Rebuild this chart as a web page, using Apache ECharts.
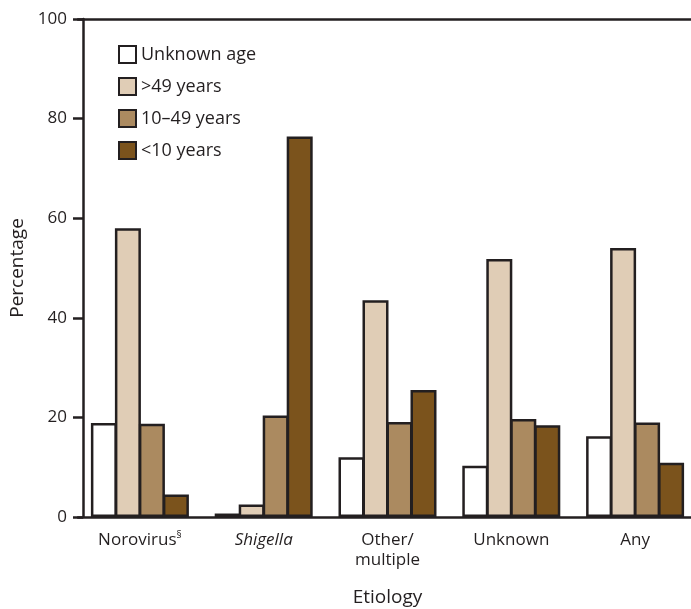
<!DOCTYPE html>
<html>
<head>
<meta charset="utf-8">
<script src="https://cdn.jsdelivr.net/npm/echarts@6/dist/echarts.min.js"></script>
<style>
html,body{margin:0;padding:0;background:#fff;}
#chart{width:691px;height:609px;}
</style>
</head>
<body>
<div id="chart"></div>
<script>
var categories = ['Norovirus', 'Shigella', 'Other/\nmultiple', 'Unknown', 'Any'];
var seriesNames = ['Unknown age', '>49 years', '10\u201349 years', '<10 years'];
var unknownAge = [18.9, 0.7, 12.0, 10.3, 16.2];
var over49 = [58.0, 2.5, 43.5, 51.8, 54.0];
var age10to49 = [18.7, 20.4, 19.1, 19.7, 19.0];
var under10 = [4.5, 76.4, 25.5, 18.4, 10.9];
var yTicks = [0, 20, 40, 60, 80, 100];

var colors = ['#ffffff', '#e0cdb6', '#ab8a60', '#7b531c'];
var ink = '#231f20';
var font = 'Open Sans';

var chart = echarts.init(document.getElementById('chart'));
var values = [unknownAge, over49, age10to49, under10];
var series = values.map(function (v, i) {
  return {
    name: seriesNames[i],
    type: 'bar',
    data: v,
    barWidth: 26,
    barGap: '-7.7%',
    itemStyle: { color: colors[i], borderColor: ink, borderWidth: 2.5 }
  };
});

chart.setOption({
  animation: false,
  textStyle: { fontFamily: font, color: ink },
  legend: {
    orient: 'vertical',
    left: 113,
    top: 40,
    icon: 'rect',
    itemWidth: 17,
    itemHeight: 17,
    itemGap: 13,
    textStyle: { fontSize: 18, color: ink, fontFamily: font },
    data: seriesNames
  },
  grid: { left: 78, right: -6, top: 19, bottom: 92, containLabel: false, outerBoundsMode: 'none' },
  xAxis: [{
    type: 'category',
    data: categories,
    axisLine: { lineStyle: { color: ink, width: 2.5 } },
    axisTick: { alignWithLabel: true, length: 10, lineStyle: { color: ink, width: 2.5 } },
    axisLabel: {
      interval: 0,
      fontSize: 17, color: ink, margin: 13, lineHeight: 20, fontFamily: font,
      formatter: function (v) {
        if (v === 'Norovirus') return v + '{sup|§}';
        if (v === 'Shigella') return '{it|' + v + '}';
        return v;
      },
      rich: {
        sup: { fontSize: 10, verticalAlign: 'top', color: ink, padding: [0, 0, 8, 0], fontFamily: font },
        it: { fontStyle: 'italic', fontSize: 17, color: ink, fontFamily: font }
      }
    },
    name: 'Etiology',
    nameLocation: 'middle',
    nameGap: 71,
    nameTextStyle: { fontSize: 19, color: ink, fontFamily: font }
  }, {
    type: 'category',
    position: 'top',
    data: categories,
    axisLine: { lineStyle: { color: ink, width: 2.5 } },
    axisTick: { show: false },
    axisLabel: { show: false }
  }],
  yAxis: {
    type: 'value',
    min: yTicks[0],
    max: yTicks[yTicks.length - 1],
    interval: 20,
    offset: -5,
    axisLine: { show: true, lineStyle: { color: ink, width: 2.5 } },
    axisTick: { show: true, length: 10, lineStyle: { color: ink, width: 2.5 } },
    splitLine: { show: false },
    axisLabel: { fontSize: 17, color: ink, margin: 16, fontFamily: font },
    name: 'Percentage',
    nameLocation: 'middle',
    nameGap: 53,
    nameTextStyle: { fontSize: 19, color: ink, fontFamily: font }
  },
  series: series
});
</script>
</body>
</html>
